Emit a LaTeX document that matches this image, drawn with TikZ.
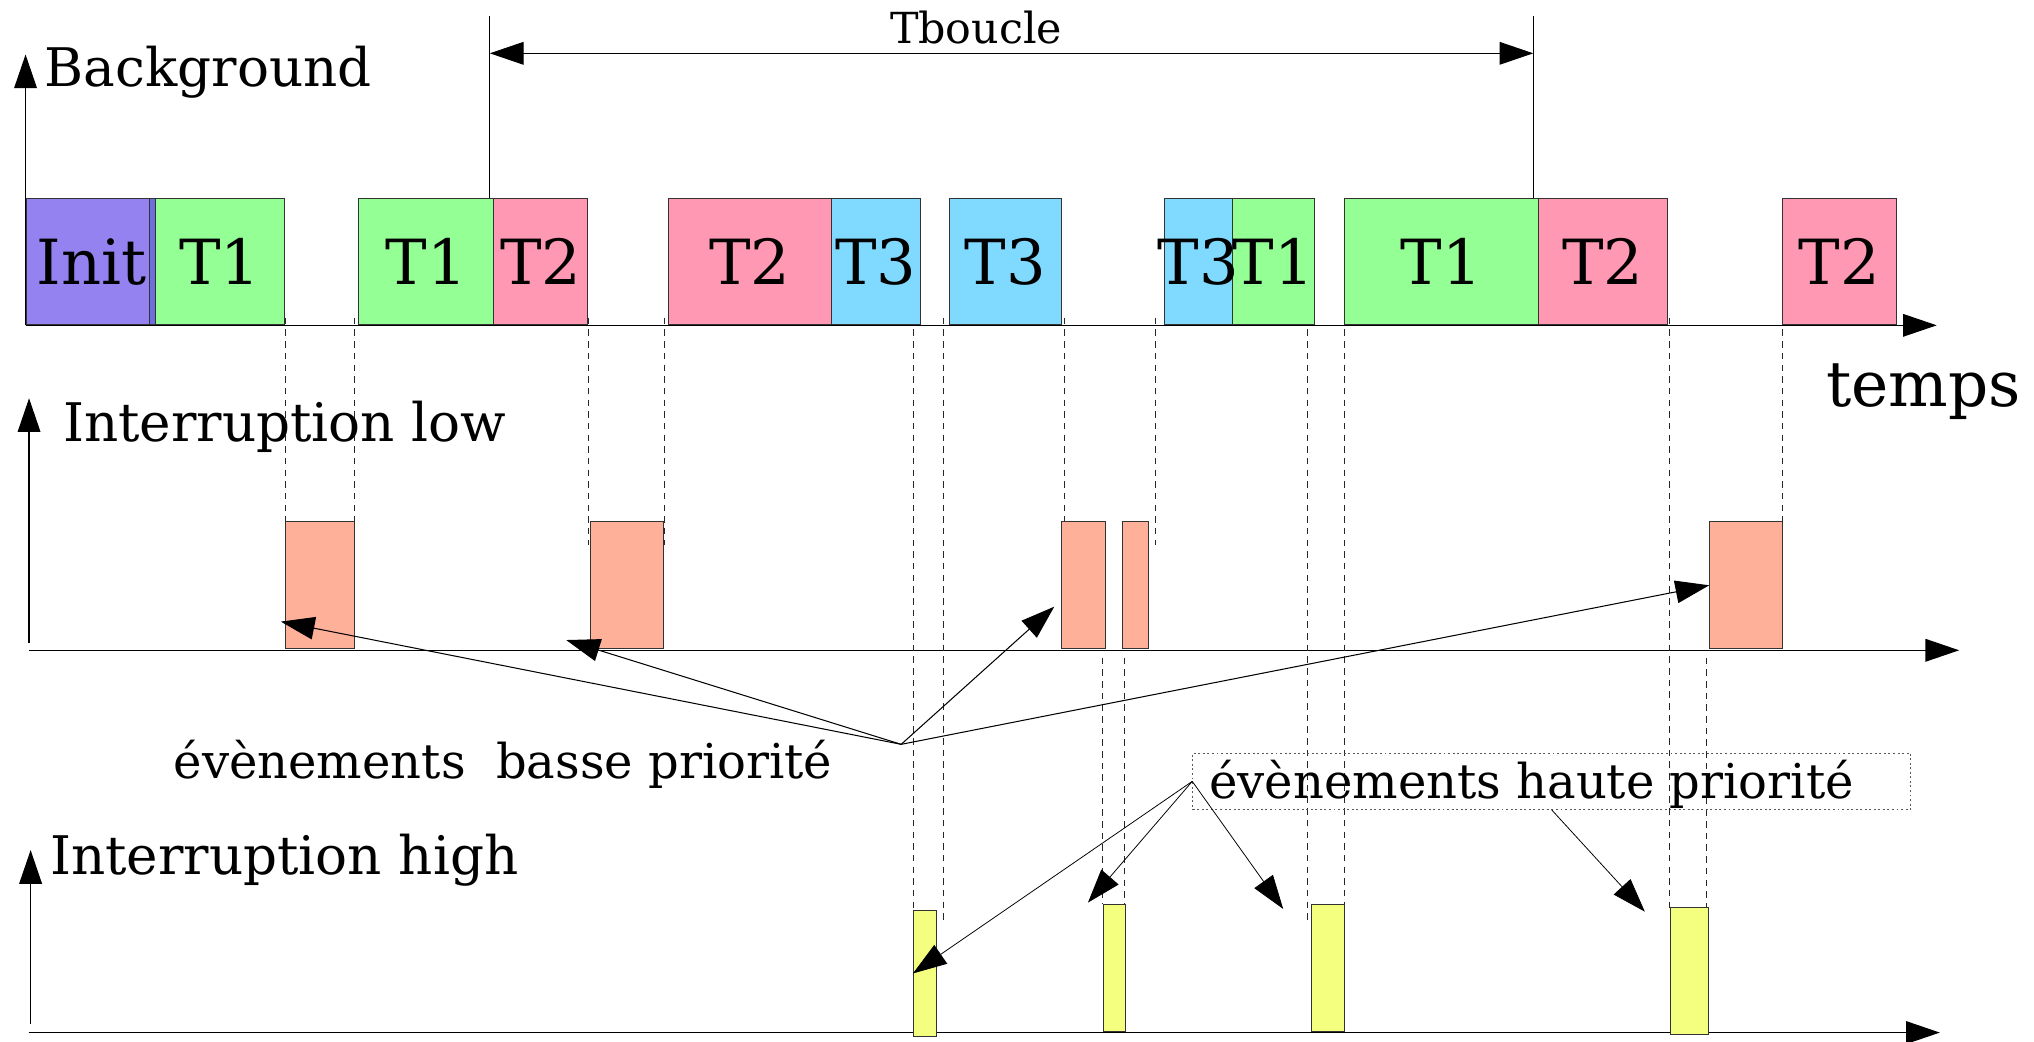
\documentclass[tikz,border=0pt]{standalone}
\usepackage{fontspec}
\setmainfont{DejaVu Serif}
\usetikzlibrary{arrows.meta}
\newcommand\fsz[1]{\fontsize{#1}{#1}\selectfont}
\definecolor{cinit}{RGB}{147,130,240}
\definecolor{cstrip}{RGB}{110,112,218}
\definecolor{cgreen}{RGB}{148,255,148}
\definecolor{cpink}{RGB}{255,153,179}
\definecolor{cblue}{RGB}{128,217,255}
\definecolor{csalmon}{RGB}{255,176,152}
\definecolor{cyellow}{RGB}{244,255,128}
\begin{document}
\begin{tikzpicture}[x=1pt,y=-1pt,
  bigtip/.style={-{Triangle[length=26pt,width=17.5pt]}},
  axis/.style={line width=0.9pt, black, bigtip},
  evtlo/.style={line width=0.8pt, black, bigtip},
  evthi/.style={line width=0.6pt, black, bigtip},
  guide/.style={line width=0.6pt, black!85, dash pattern=on 5pt off 4pt},
  taskbox/.style={draw=black!80, line width=0.7pt, inner sep=0pt, minimum height=96.9pt, anchor=north west},
  lowbox/.style={draw=black!80, line width=0.7pt, fill=csalmon, inner sep=0pt, minimum height=97.7pt, anchor=north west},
  highbox/.style={draw=black!80, line width=0.7pt, fill=cyellow, inner sep=0pt, anchor=north west},
  lab/.style={font=\fsz{48}, inner sep=0pt, anchor=base},
  ttl/.style={font=\fsz{41}, inner sep=0pt, anchor=base west},
  evtxt/.style={font=\fsz{37}, inner sep=0pt, anchor=base west}
]
\useasboundingbox (0,0) rectangle (1568,803);

% axes
\draw[axis] (19.7,250.8) -- (19.7,42);
\draw[axis] (19.7,250.8) -- (1493,250.8);
\draw[axis] (22.4,496) -- (22.4,307);
\draw[axis] (22.4,501.3) -- (1510.3,501.3);
\draw[axis] (23.6,789) -- (23.6,655.3);
\draw[axis] (22,796) -- (1495.4,796);

% guide (dashed) lines
\foreach \gx/\gya/\gyb in {220/245/420, 273/245/420, 453.5/245/420, 512.5/245/420,
  704/245/701, 727/245/711, 820.5/245/420, 890.5/245/420,
  850/507/697, 867/507/697, 1007.5/245/710, 1036/245/697,
  1287/245/700, 1374/245/420, 1315.8/507/700}
  \draw[guide] (\gx,\gya) -- (\gx,\gyb);

% Tboucle
\draw[line width=0.6pt] (377.6,12) -- (377.6,158);
\draw[line width=0.6pt] (1182,12) -- (1182,158);
\coordinate (tbL) at (377.6,41.1);
\coordinate (tbR) at (1182,41.1);
\draw[line width=0.8pt, {Triangle[length=26pt,width=17.5pt]}-{Triangle[length=26pt,width=17.5pt]}] (tbL) -- (tbR);
\node[font=\fsz{33}, inner sep=0pt, anchor=base] (tb) at (752.5,33.4) {Tboucle};

% background tasks
\node[taskbox, fill=cinit, minimum width=94.9pt] (init) at (19.7,152.9) {};
\node[taskbox, fill=cstrip, minimum width=4.9pt] (strip) at (114.6,152.9) {};
\node[taskbox, fill=cgreen, minimum width=99.3pt] (t1a) at (119.5,152.9) {};
\node[taskbox, fill=cgreen, minimum width=103.7pt] (t1b) at (276.3,152.9) {};
\node[taskbox, fill=cpink, minimum width=72.8pt] (t2a) at (380,152.9) {};
\node[taskbox, fill=cpink, minimum width=125.9pt] (t2b) at (514.7,152.9) {};
\node[taskbox, fill=cblue, minimum width=68.3pt] (t3a) at (640.6,152.9) {};
\node[taskbox, fill=cblue, minimum width=86.2pt] (t3b) at (731.5,152.9) {};
\node[taskbox, fill=cblue, minimum width=52.9pt] (t3c) at (897,152.9) {};
\node[taskbox, fill=cgreen, minimum width=63pt] (t1c) at (949.9,152.9) {};
\node[taskbox, fill=cgreen, minimum width=149.5pt] (t1d) at (1035.8,152.9) {};
\node[taskbox, fill=cpink, minimum width=100.1pt] (t2c) at (1185.3,152.9) {};
\node[taskbox, fill=cpink, minimum width=87.6pt] (t2d) at (1373.8,152.9) {};

\node[lab] (initL) at ([xshift=3pt,yshift=-17.5pt]init.center) {Init};
\node[lab] (t1aL) at ([yshift=-17.5pt]t1a.center) {T1};
\node[lab] (t1bL) at ([yshift=-17.5pt]t1b.center) {T1};
\node[lab] (t2aL) at ([yshift=-17.5pt]t2a.center) {T2};
\node[lab] (t2bL) at ([yshift=-17.5pt]t2b.center) {T2};
\node[lab] (t3aL) at ([yshift=-17.5pt]t3a.center) {T3};
\node[lab] (t3bL) at ([yshift=-17.5pt]t3b.center) {T3};
\node[lab] (t3cL) at ([yshift=-17.5pt]t3c.center) {T3};
\node[lab] (t1cL) at ([yshift=-17.5pt]t1c.center) {T1};
\node[lab] (t1dL) at ([yshift=-17.5pt]t1d.center) {T1};
\node[lab] (t2cL) at ([yshift=-17.5pt]t2c.center) {T2};
\node[lab] (t2dL) at ([yshift=-17.5pt]t2d.center) {T2};

% low interrupts
\node[lowbox, minimum width=53.6pt] (l1) at (219.4,402) {};
\node[lowbox, minimum width=56.6pt] (l2) at (454.8,402) {};
\node[lowbox, minimum width=33.7pt] (l3) at (818,402) {};
\node[lowbox, minimum width=20pt] (l4) at (865,402) {};
\node[lowbox, minimum width=56.2pt] (l5) at (1317.6,402) {};

% high interrupts
\node[highbox, minimum width=17.8pt, minimum height=97.1pt] (y1) at (703.8,701.5) {};
\node[highbox, minimum width=17pt, minimum height=97.8pt] (y2) at (850,697) {};
\node[highbox, minimum width=25pt, minimum height=97.8pt] (y3) at (1011,697) {};
\node[highbox, minimum width=29.5pt, minimum height=97.5pt] (y4) at (1287,699.5) {};

% titles
\node[ttl] (bg) at (34.4,66.8) {Background};
\node[ttl] (ilow) at (48.5,340.5) {Interruption low};
\node[ttl] (ihigh) at (38.5,674.5) {Interruption high};
\node[lab, font=\fsz{48.5}, anchor=base west] (temps) at (1407.5,313.5) {temps};

% low priority events
\node[evtxt] (lotxt) at (133.7,600) {évènements\ \ basse priorité};
\coordinate (lo) at (694.7,573.8);
\coordinate (a1) at (216.5,479.2);
\coordinate (a2) at (436.5,493.4);
\coordinate (a3) at (812.7,467.7);
\draw[evtlo] (lo) -- (a1);
\draw[evtlo] (lo) -- (a2);
\draw[evtlo] (lo) -- (a3);
\draw[evtlo] (lo) -- (l5.west);

% high priority events
\node[draw=black!65, line width=0.8pt, dash pattern=on 1.5pt off 2pt, inner sep=0pt,
  minimum width=553.5pt, minimum height=43.3pt] (hibox) at (1196.25,602.35) {};
\node[evtxt] (hitxt) at (932,615.4) {évènements haute priorité};
\coordinate (b2) at (838.7,695.8);
\coordinate (b3) at (989.2,700.7);
\coordinate (b4) at (1268,702.8);
\draw[evthi] (hibox.west) -- (y1.west);
\draw[evthi] (hibox.west) -- (b2);
\draw[evthi] (hibox.west) -- (b3);
\draw[evthi] (hibox.south) -- (b4);
\end{tikzpicture}
\end{document}
